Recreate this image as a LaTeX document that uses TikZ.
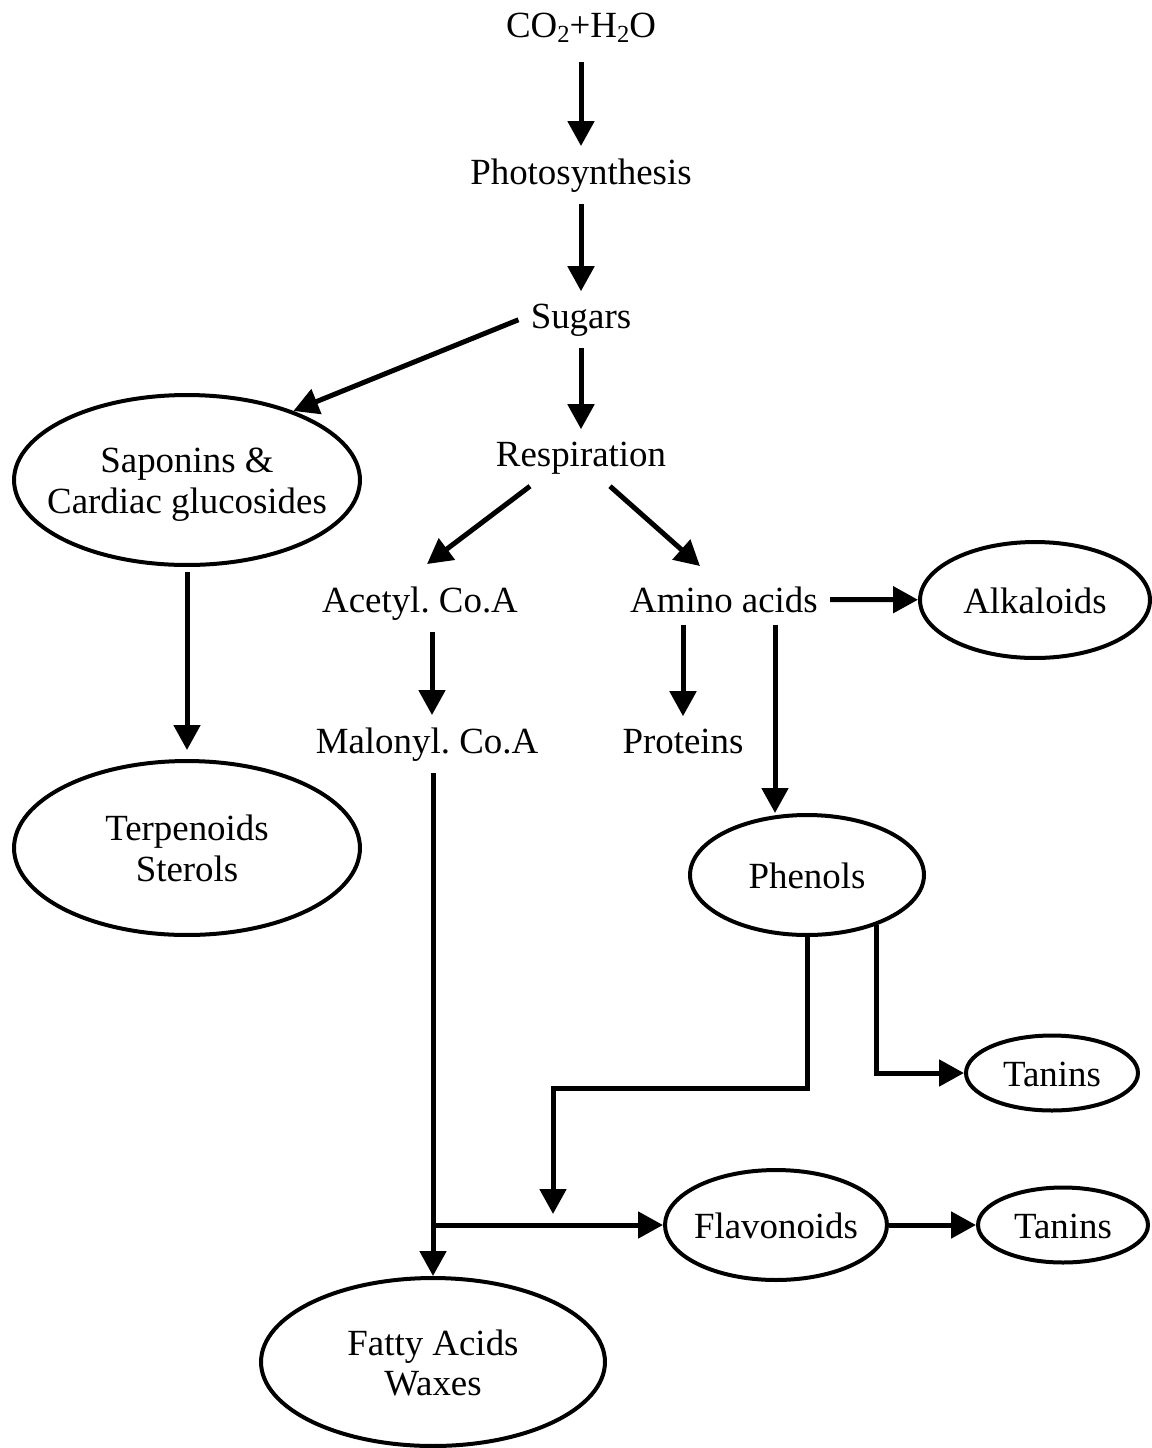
\documentclass[tikz,border=0pt]{standalone}
\usepackage{fontspec}
\setmainfont{Liberation Serif}
\usetikzlibrary{shapes.geometric, arrows.meta, positioning, calc}
\newcommand{\ctext}[1]{\makebox[0pt]{\raisebox{-0.1cm}[\height][\depth]{\begin{tabular}{@{}c@{}}#1\end{tabular}}}}
\newcommand{\subtwo}{\lower0.3ex\hbox{\fontsize{14}{14}\selectfont 2}}
\frenchspacing

\begin{document}
\begin{tikzpicture}[
    x=0.02cm, y=-0.02cm,
    every node/.style={font=\fontsize{21}{22.8}\selectfont},
    txt/.style={inner sep=0.24cm, anchor=base},
    ell/.style={ellipse, draw, line width=0.08cm, inner sep=0pt},
    conn/.style={draw, ->, line width=0.1cm},
    >={Triangle[width=0.52cm, length=0.5cm]}
]
\useasboundingbox (0,0) rectangle (1152,1448);

\node[txt] (co2) at (581,37) {CO\subtwo+H\subtwo O};
\node[txt] (photo) at (581,184) {Photosynthesis};
\node[txt] (sugars) at (581,328) {Sugars};
\node[txt] (resp) at (581,466) {Respiration};
\node[txt] (acetyl) at (420,612) {Acetyl. Co.A};
\node[txt] (amino) at (724,612) {Amino acids};
\node[txt] (malonyl) at (427,753) {Malonyl. Co.A};
\node[txt] (proteins) at (683,753) {Proteins};

\node[ell, minimum width=6.92cm, minimum height=3.4cm] (sap) at (187,480) {\ctext{Saponins \&\\Cardiac glucosides}};
\node[ell, minimum width=6.92cm, minimum height=3.48cm] (terp) at (187,848) {\ctext{Terpenoids\\Sterols}};
\node[ell, minimum width=4.6cm, minimum height=2.32cm] (alk) at (1035,600) {\ctext{Alkaloids}};
\node[ell, minimum width=4.68cm, minimum height=2.4cm] (phen) at (807,875) {\ctext{Phenols}};
\node[ell, minimum width=3.44cm, minimum height=1.5cm] (tan1) at (1052,1073) {\ctext{Tanins}};
\node[ell, minimum width=4.44cm, minimum height=2.2cm] (flav) at (776,1225) {\ctext{Flavonoids}};
\node[ell, minimum width=3.4cm, minimum height=1.5cm] (tan2) at (1063,1225) {\ctext{Tanins}};
\node[ell, minimum width=6.88cm, minimum height=3.36cm] (fatty) at (433,1362) {\ctext{Fatty Acids\\Waxes}};

\coordinate (bend) at (553,1088);

\draw[conn] ([yshift=-0.16cm]co2.south) -- (photo);
\draw[conn] (photo) -- (sugars);
\draw[conn] (sugars.west) -- (sap.33);
\draw[conn] (sugars) -- (resp);
\draw[conn] ([xshift=-1.02cm]resp.south) -- ([xshift=0.14cm, yshift=0.2cm]acetyl.north);
\draw[conn] ([xshift=0.58cm]resp.south) -- ([xshift=-0.48cm, yshift=0.16cm]amino.north);
\draw[conn] ([xshift=0.1cm]malonyl.north |- acetyl.south) -- ([xshift=0.1cm]malonyl.north);
\draw[conn] (proteins.north |- amino.south) -- (proteins);
\draw[conn] (amino) -- (alk);
\draw[conn] ([xshift=-0.64cm]phen.north |- amino.south) -- ([xshift=-0.64cm]phen.north);
\draw[conn] ([yshift=-0.1cm]sap.south) -- ([yshift=0.18cm]terp.north);
\draw[conn] (malonyl.south -| fatty.north) -- (fatty.north);
\draw[conn] (fatty.north |- flav.west) -- (flav.west);
\draw[conn] (phen.south) |- (bend) -- ([yshift=0.22cm]bend |- flav.west);
\draw[conn] (phen.-36) |- (tan1.west);
\draw[conn] (flav) -- (tan2);

\end{tikzpicture}
\end{document}
